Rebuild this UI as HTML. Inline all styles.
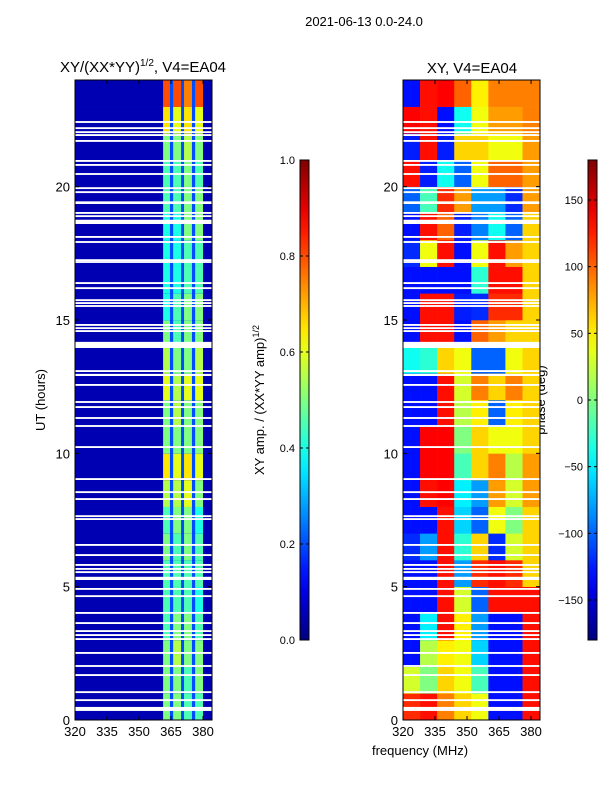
<!DOCTYPE html>
<html><head><meta charset="utf-8"><style>
body{margin:0;background:#fff;}
svg{display:block;font-family:"Liberation Sans","DejaVu Sans",sans-serif;}
</style></head><body>
<svg id="fig" width="600" height="800" xmlns="http://www.w3.org/2000/svg">
<text x="364" y="26" font-size="13" text-anchor="middle">2021-06-13 0.0-24.0</text>
<text x="143" y="72" font-size="15" text-anchor="middle">XY/(XX*YY)<tspan font-size="10" dy="-6">1/2</tspan><tspan dy="6">, V4=EA04</tspan></text>
<text x="472" y="73" font-size="15" text-anchor="middle">XY, V4=EA04</text>
<text x="45" y="400" font-size="13" text-anchor="middle" transform="rotate(-90 45 400)">UT (hours)</text>
<text x="420" y="755" font-size="13" text-anchor="middle">frequency (MHz)</text>
<text x="264" y="400" font-size="13" text-anchor="middle" transform="rotate(-90 264 400)">XY amp. / (XX*YY amp)<tspan font-size="9" dy="-5">1/2</tspan></text>
<text x="545" y="400" font-size="13" text-anchor="middle" transform="rotate(-90 545 400)">phase (deg)</text>
<defs><linearGradient id="jetg" x1="0" y1="1" x2="0" y2="0"></linearGradient></defs>
<g id="left"></g>
<g id="right"></g>
<g id="axes"></g>
</svg>
<script>
// ---- data ----
const hours = [0,1,2,3,4,5,6,7,8,9,10,11,12,13,14,15,16,17,18,19,20,21,22,23];
const ampStripeLo = [361.3, 366.0, 371.1, 376.3];
const ampStripeHi = [364.5, 369.7, 374.8, 380.0];
const ampBase = 0.05;
const ampGap = 0.2;
const ampStripes = [
[.5,.5,.45,.45],[.5,.5,.45,.5],[.5,.55,.5,.5],[.45,.5,.5,.45],[.45,.45,.45,.4],
[.45,.45,.45,.45],[.5,.45,.5,.45],[.45,.5,.5,.4],[.55,.55,.6,.5],[.65,.6,.65,.6],
[.5,.5,.5,.5],[.5,.55,.5,.5],[.6,.55,.6,.6],[.55,.5,.5,.55],[.5,.45,.5,.5],
[.4,.45,.5,.5],[.4,.4,.45,.45],[.4,.4,.45,.45],[.4,.4,.5,.5],[.45,.45,.5,.5],
[.45,.45,.5,.45],[.5,.5,.55,.5],[.65,.6,.65,.6],[.8,.8,.75,.8]];
const phaseFreqEdges = [320,328,336,344,352,360,368,376,384.2];
const phase = [
[120,130,90,60,40,-130,-130,130],
[30,0,60,40,-20,-130,-130,130],
[-130,20,50,40,-60,-130,-130,130],
[-130,-50,130,50,-80,-130,-130,130],
[-130,-130,130,30,-100,130,130,130],
[-130,-130,130,-80,120,130,120,60],
[-120,-80,130,-30,60,-120,30,60],
[-130,-130,130,-60,-100,40,0,60],
[-130,130,135,-50,-80,80,30,80],
[-130,135,135,-20,60,90,20,80],
[-130,135,135,0,60,40,40,60],
[-130,-130,130,20,50,-100,50,60],
[-130,-130,130,30,90,60,90,60],
[-40,-30,60,40,-100,-100,40,60],
[-130,130,130,-130,100,80,60,60],
[-130,130,130,-125,-120,120,120,60],
[-130,-130,-130,-130,-30,130,130,60],
[-120,40,130,-130,40,130,80,60],
[-130,130,100,-125,-90,-40,-100,60],
[-100,-20,120,80,-80,-80,-120,80],
[130,-125,-40,-100,40,100,100,80],
[-125,130,-125,60,60,40,40,80],
[135,130,-130,-40,40,80,80,90],
[-130,130,135,100,50,90,90,90]];
const flagStart = [22.39,22.16,22.01,21.9,21.68,20.93,20.78,20.44,19.91,19.76,19.35,18.98,18.86,18.6,18.08,17.89,17.21,17.14,16.35,16.16,15.71,15.6,15.49,14.78,14.66,14.55,13.95,13.05,12.9,12.53,11.89,11.7,11.29,10.99,10.2,9.0,8.51,8.25,7.61,7.5,6.53,6.15,5.78,5.63,5.51,5.25,4.88,4.61,3.98,3.6,3.3,3.15,3.0,2.48,1.99,1.65,1.01,0.71,0.34];
const flagWidth  = [.07,.07,.07,.07,.07,.07,.07,.07,.07,.07,.1,.07,.07,.16,.07,.07,.07,.07,.07,.07,.07,.07,.07,.07,.07,.07,.23,.07,.08,.07,.07,.07,.07,.07,.07,.07,.07,.07,.07,.07,.07,.07,.07,.07,.07,.12,.07,.07,.07,.07,.07,.07,.07,.07,.07,.07,.07,.07,.15];
const xTicks = [320,335,350,365,380];
const yTicks = [0,5,10,15,20];
const ampTicks = [0.0,0.2,0.4,0.6,0.8,1.0];
const phaseTicks = [-150,-100,-50,0,50,100,150];

// ---- helpers ----
const NS="http://www.w3.org/2000/svg";
function jet(v){v=Math.max(0,Math.min(1,v));
 const c=x=>Math.round(255*Math.max(0,Math.min(1,x)));
 const r=1.5-Math.abs(4*v-3), g=1.5-Math.abs(4*v-2), b=1.5-Math.abs(4*v-1);
 return `rgb(${c(r)},${c(g)},${c(b)})`;}
function mk(tag,attrs,parent){const e=document.createElementNS(NS,tag);for(const k in attrs)e.setAttribute(k,attrs[k]);parent.appendChild(e);return e;}
const PY0=80,PY1=720;
const yS=h=>PY1-(h/24)*(PY1-PY0);
const fMin=320,fMax=384.2;
function xS(x0,x1){return f=>x0+(f-fMin)/(fMax-fMin)*(x1-x0);}
const xL=xS(75,212), xR=xS(403,540);
const L=document.getElementById('left'), R=document.getElementById('right'), A=document.getElementById('axes');

hours.forEach((h,i)=>{
 const y=yS(h+1), hh=yS(h)-yS(h+1);
 let r=mk('rect',{x:xL(fMin),y:y,width:xL(fMax)-xL(fMin),height:hh+0.3,fill:jet(ampBase)},L);
 
 
 let g=mk('rect',{x:xL(ampStripeLo[0]),y:y,width:xL(ampStripeHi[3])-xL(ampStripeLo[0]),height:hh+0.3,fill:jet(ampGap)},L);
 
 
 ampStripes[i].forEach((v,j)=>{
  const c=mk('rect',{x:xL(ampStripeLo[j]),y:y,width:xL(ampStripeHi[j])-xL(ampStripeLo[j]),height:hh+0.3,fill:jet(v)},L);
  
  
 });
});
hours.forEach((h,i)=>{
 const y=yS(h+1), hh=yS(h)-yS(h+1);
 phase[i].forEach((v,j)=>{
  const c=mk('rect',{x:xR(phaseFreqEdges[j]),y:y,width:xR(phaseFreqEdges[j+1])-xR(phaseFreqEdges[j])+0.3,height:hh+0.3,fill:jet((v+180)/360)},R);
  
  
 });
});
flagStart.forEach((s,i)=>{
 [[L,xL],[R,xR]].forEach(([P,xf])=>{
  const f=mk('rect',{x:xf(fMin),y:yS(s+flagWidth[i]),width:xf(fMax)-xf(fMin),height:yS(s)-yS(s+flagWidth[i]),fill:'#fff'},P);
  
  
 });
});
[[75,212,xL,'left'],[403,540,xR,'right']].forEach(([x0,x1,xf,nm])=>{
 const fr=mk('rect',{x:x0,y:PY0,width:x1-x0,height:PY1-PY0,fill:'none',stroke:'#000','stroke-width':1},A);
 
 
 xTicks.forEach(t=>{
  const x=xf(t);
  mk('line',{x1:x,y1:PY1,x2:x,y2:PY1-4,stroke:'#000'},A);
  mk('line',{x1:x,y1:PY0,x2:x,y2:PY0+4,stroke:'#000'},A);
  const tx=mk('text',{x:x,y:PY1+16,'font-size':13,'text-anchor':'middle'},A);
  tx.textContent=t;
  
  
 });
 yTicks.forEach(t=>{
  const y=yS(t);
  mk('line',{x1:x0,y1:y,x2:x0+4,y2:y,stroke:'#000'},A);
  mk('line',{x1:x1,y1:y,x2:x1-4,y2:y,stroke:'#000'},A);
  const tx=mk('text',{x:x0-5,y:y+5,'font-size':13,'text-anchor':'end'},A);
  tx.textContent=t;
  
  
 });
});
const grad=document.getElementById('jetg');
for(let k=0;k<=20;k++)mk('stop',{offset:(k/20),'stop-color':jet(k/20)},grad);
function cbar(x,ticks,tmin,tmax,fmt,nm){
 const y0=160,y1=640,w=9;
 const b=mk('rect',{x:x,y:y0,width:w,height:y1-y0,fill:'url(#jetg)',stroke:'#000','stroke-width':1},A);
 
 
 ticks.forEach(t=>{
  const y=y1-(t-tmin)/(tmax-tmin)*(y1-y0);
  mk('line',{x1:x,y1:y,x2:x+3,y2:y,stroke:'#000'},A);
  mk('line',{x1:x+w,y1:y,x2:x+w-3,y2:y,stroke:'#000'},A);
  const tx=mk('text',{x:x-5,y:y+4,'font-size':11,'text-anchor':'end'},A);
  tx.textContent=fmt(t);
  
  
 });
}
cbar(300,ampTicks,0,1,t=>t.toFixed(1),'amp-colorbar');
cbar(588,phaseTicks,-180,180,t=>t<0?'\u2212'+(-t):''+t,'phase-colorbar');
</script>
</body></html>
